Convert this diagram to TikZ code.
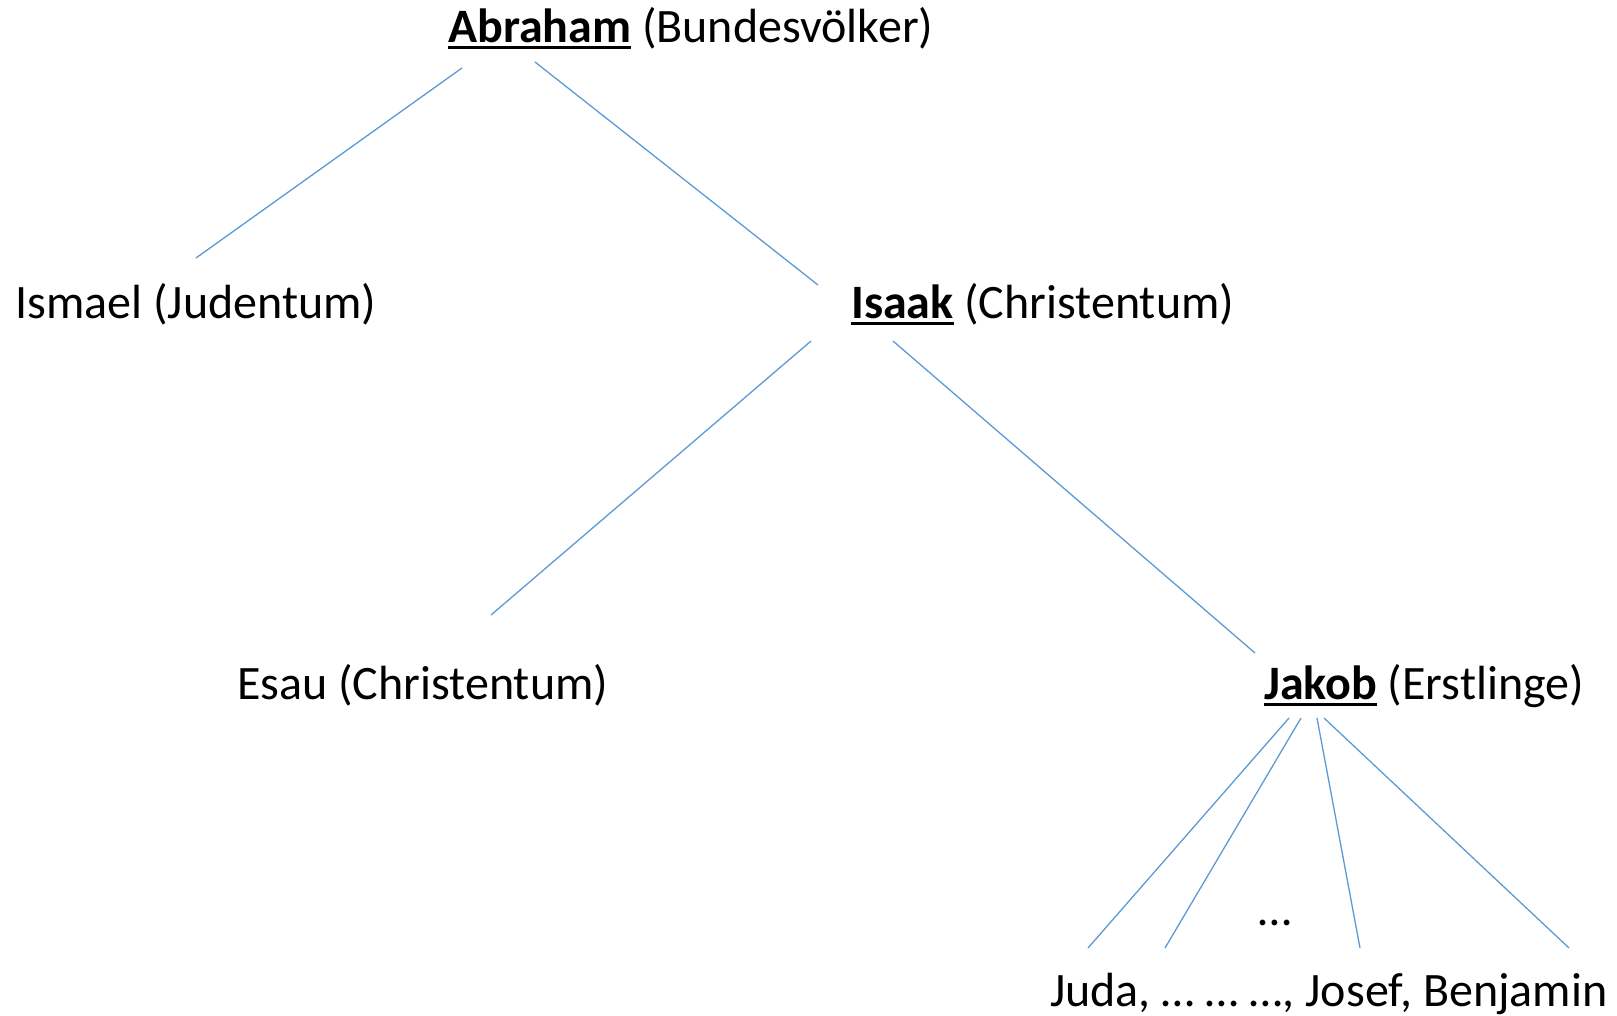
\documentclass[tikz,border=0pt]{standalone}
\usepackage{fontspec}
\setmainfont{Carlito}
\newcommand\myul[1]{\setbox0\hbox{#1}\rlap{\rule[-7pt]{\wd0}{2.6pt}}\box0\relax}
\definecolor{linkblue}{HTML}{5B9BD5}
\begin{document}
\begin{tikzpicture}[x=1pt,y=-1pt,
  lbl/.style={anchor=base west,inner sep=0pt,font=\fontsize{48}{57}\selectfont},
  link/.style={draw=linkblue,line width=1.3pt}]
\useasboundingbox (0,0) rectangle (1617,1015);
\node[lbl] (abraham) at (448,42) {\myul{\textbf{Abraham}} (Bundesvölker)};
\node[lbl] (ismael) at (15,318) {Ismael (Judentum)};
\node[lbl] (isaak) at (851,318) {\myul{\textbf{Isaak}} (Christentum)};
\node[lbl] (esau) at (237,699) {Esau (Christentum)};
\node[lbl] (jakob) at (1264,699) {\myul{\textbf{Jakob}} (Erstlinge)};
\node[lbl,anchor=base] (dots) at (1275,925) {…};
\node[lbl] (sons) at (1050,1006) {Juda, … … …, Josef, Benjamin};
% connector end points
\coordinate (a1) at (462,68);  \coordinate (i1) at (196,258);
\coordinate (a2) at (535,62);  \coordinate (s1) at (818,285);
\coordinate (s2) at (811,341); \coordinate (e1) at (491,615);
\coordinate (s3) at (893,341); \coordinate (j1) at (1255,653);
\coordinate (j2) at (1289,718); \coordinate (b1) at (1088,948);
\coordinate (j3) at (1301,718); \coordinate (b2) at (1165,948);
\coordinate (j4) at (1317,718); \coordinate (b3) at (1360,948);
\coordinate (j5) at (1324,718); \coordinate (b4) at (1569,948);
\draw[link] (a1) -- (i1);
\draw[link] (a2) -- (s1);
\draw[link] (s2) -- (e1);
\draw[link] (s3) -- (j1);
\draw[link] (j2) -- (b1);
\draw[link] (j3) -- (b2);
\draw[link] (j4) -- (b3);
\draw[link] (j5) -- (b4);
\end{tikzpicture}
\end{document}
